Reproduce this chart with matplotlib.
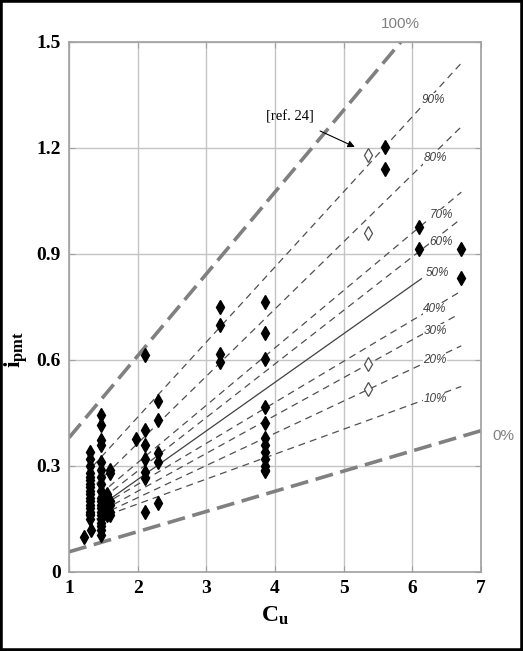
import numpy as np
import matplotlib.pyplot as plt
from matplotlib.patches import Rectangle

plt.rcParams['lines.scale_dashes'] = False
plt.rcParams['mathtext.fontset'] = 'custom'
plt.rcParams['mathtext.bf'] = 'Liberation Serif:bold'
plt.rcParams['mathtext.rm'] = 'Liberation Serif'

# measured points (filled diamonds)
cu_filled = [1.22, 1.32,
             1.30, 1.30, 1.30, 1.30, 1.30, 1.30, 1.30, 1.30, 1.30, 1.30,
             1.30, 1.30, 1.30, 1.30, 1.30, 1.30, 1.30, 1.30,
             1.47, 1.47, 1.47, 1.47, 1.47, 1.47, 1.47, 1.47, 1.47, 1.47,
             1.47, 1.47, 1.47, 1.47, 1.47, 1.47, 1.47, 1.47, 1.47, 1.47,
             1.55, 1.55, 1.55, 1.55, 1.55, 1.55, 1.55,
             1.60, 1.60, 1.60, 1.60, 1.60, 1.60,
             1.98, 2.10, 2.10, 2.10, 2.10, 2.10, 2.10, 2.10,
             2.30, 2.30, 2.30, 2.30, 2.30,
             3.20, 3.20, 3.20, 3.20,
             3.85, 3.85, 3.85, 3.85, 3.85, 3.85, 3.85, 3.85, 3.85, 3.85, 3.85, 3.85,
             5.60, 5.60, 6.10, 6.10, 6.70, 6.70]
ipmt_filled = [0.10, 0.12,
               0.34, 0.32, 0.30, 0.28, 0.27, 0.26, 0.25, 0.24, 0.23, 0.22,
               0.21, 0.20, 0.19, 0.18, 0.17, 0.165, 0.16, 0.15,
               0.444, 0.416, 0.374, 0.36, 0.31, 0.29, 0.27, 0.25, 0.23, 0.21,
               0.20, 0.19, 0.18, 0.17, 0.16, 0.15, 0.14, 0.13, 0.12, 0.105,
               0.22, 0.21, 0.20, 0.19, 0.18, 0.17, 0.16,
               0.289, 0.28, 0.20, 0.19, 0.17, 0.16,
               0.376, 0.614, 0.402, 0.36, 0.32, 0.284, 0.265, 0.171,
               0.484, 0.43, 0.338, 0.312, 0.194,
               0.751, 0.699, 0.617, 0.595,
               0.763, 0.676, 0.603, 0.468, 0.423, 0.38, 0.36, 0.34, 0.32, 0.30, 0.285, 0.29,
               1.204, 1.14, 0.977, 0.913, 0.913, 0.831]

# ref. 24 points (open diamonds)
cu_open = [5.35, 5.35, 5.35, 5.35]
ipmt_open = [1.18, 0.96, 0.588, 0.517]

# percentage lines: start and end
pct_labels = ['90%', '80%', '70%', '60%', '50%', '40%', '30%', '20%', '10%']
pct_x0 = [1.35, 1.40, 1.45, 1.50, 1.55, 1.50, 1.50, 1.45, 1.40]
pct_y0 = [0.30, 0.25, 0.22, 0.21, 0.20, 0.19, 0.175, 0.16, 0.15]
pct_x1 = [6.71, 6.71, 6.71, 6.71, 6.13, 6.71, 6.65, 6.71, 6.71]
pct_y1 = [1.44, 1.26, 1.075, 1.00, 0.83, 0.795, 0.727, 0.64, 0.525]
pct_lab_x = [6.30, 6.33, 6.42, 6.42, 6.36, 6.33, 6.33, 6.33, 6.33]
pct_lab_y = [1.336, 1.171, 1.01, 0.935, 0.845, 0.744, 0.683, 0.60, 0.489]

# bounding lines 100% and 0%
bound_x = [[1.0, 5.83], [1.0, 7.0]]
bound_y = [[0.38, 1.50], [0.057, 0.40]]

fig = plt.figure(figsize=(5.23, 6.51), dpi=100)
ax = fig.add_axes([0.132, 0.1214, 0.788, 0.8141])

for xs, ys in zip(bound_x, bound_y):
    ax.plot(xs, ys, color='#808080', lw=2.6, dashes=(13, 5.5), zorder=2)

for i, lab in enumerate(pct_labels):
    if lab == '50%':
        ax.plot([pct_x0[i], pct_x1[i]], [pct_y0[i], pct_y1[i]], color='#404040', lw=0.9, zorder=2)
    else:
        ax.plot([pct_x0[i], pct_x1[i]], [pct_y0[i], pct_y1[i]], color='#505050', lw=0.9,
                dashes=(5, 3.6), zorder=2)
    ax.text(pct_lab_x[i], pct_lab_y[i], lab, fontsize=8.5, style='italic', color='#404040',
            family='Liberation Sans', ha='center', va='center',
            bbox=dict(facecolor='white', edgecolor='none', pad=0.3))

ax.text(5.82, 1.551, '100%', fontsize=11, color='#808080', family='Liberation Sans',
        ha='center', va='center', clip_on=False)
ax.text(7.32, 0.385, '0%', fontsize=11, color='#808080', family='Liberation Sans',
        ha='center', va='center', clip_on=False)

ax.plot(cu_filled, ipmt_filled, linestyle='none', marker='d', ms=7.5, color='black', zorder=3)
ax.plot(cu_open, ipmt_open, linestyle='none', marker='d', ms=7.5, mfc='white', mec='#505050',
        mew=0.9, zorder=3)

ax.annotate('[ref. 24]', xy=(5.16, 1.203), xytext=(4.21, 1.288), fontsize=10.5,
            family='Liberation Serif', ha='center', va='center',
            arrowprops=dict(arrowstyle='-|>', color='black', lw=0.8, shrinkA=8, shrinkB=0,
                            mutation_scale=10))

ax.set_xlim(1, 7)
ax.set_ylim(0, 1.5)
ax.set_xticks([1, 2, 3, 4, 5, 6, 7])
ax.set_yticks([0, 0.3, 0.6, 0.9, 1.2, 1.5])
ax.set_yticklabels(['0', '0.3', '0.6', '0.9', '1.2', '1.5'])
for lbl in ax.get_xticklabels() + ax.get_yticklabels():
    lbl.set_family('Liberation Serif')
    lbl.set_fontweight('bold')
    lbl.set_fontsize(14)
ax.tick_params(direction='in', color='#a0a0a0', length=4, top=True, right=True, pad=6)
ax.grid(True, color='#c4c4c4', lw=1)
ax.set_axisbelow(True)
for sp in ax.spines.values():
    sp.set_color('#a0a0a0')
    sp.set_linewidth(1.2)

ax.set_xlabel(r'$\mathbf{C_{u}}$', fontsize=17, labelpad=4)
ax.set_ylabel(r'$\mathbf{i_{pmt}}$', fontsize=17)
ax.yaxis.set_label_coords(-0.095, 0.42)

fig.patches.append(Rectangle((0, 0), 1, 1, transform=fig.transFigure, fill=False,
                             edgecolor='black', lw=4))

fig.savefig('out.png', dpi=100)
